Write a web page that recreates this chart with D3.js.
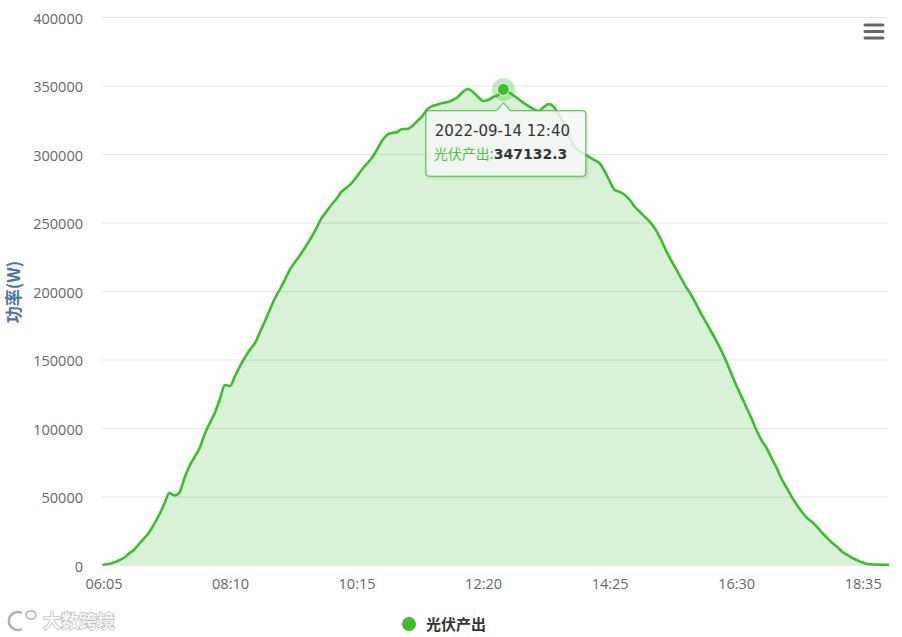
<!DOCTYPE html>
<html><head><meta charset="utf-8">
<script src="https://cdn.jsdelivr.net/npm/d3@7/dist/d3.min.js"></script>
<style>
html,body{margin:0;padding:0;background:#fff;}
svg{display:block;}
</style></head>
<body>
<svg id="chart" width="902" height="637"></svg>
<script>
// ---- data ----
const seriesName = "光伏产出";
const yTitle = "功率(W)";
const values = [
  200, 700, 1800, 3300, 5100, 8300, 10900, 15300, 19300, 23700,
  29900, 36500, 44500, 52500, 50800, 52800, 63500, 72300, 78800, 85400,
  95600, 103600, 111000, 121200, 131400, 130700, 138000, 145300, 151800, 157500,
  162500, 170800, 178800, 187600, 195600, 202200, 209500, 216800, 221900, 227000,
  232800, 238700, 245300, 252600, 257700, 262800, 267100, 272300, 275400, 278800,
  283200, 288300, 292700, 297100, 302900, 309500, 313900, 315300, 316100, 318200,
  318200, 320400, 324000, 327700, 332800, 335000, 336100, 337200, 337900, 339400,
  341600, 345300, 347400, 345300, 341600, 338700, 339400, 341600, 343000, 347132.3,
  345300, 342700, 340100, 337200, 335000, 332800, 331400, 334300, 336500, 334300,
  328500, 321200, 312400, 305800, 302200, 300000, 297800, 295600, 293400, 287600,
  280300, 273700, 272300, 270100, 266400, 261300, 257700, 254000, 250300, 245300,
  238700, 230700, 223400, 216800, 210200, 203600, 197800, 191200, 183900, 177400,
  170800, 164200, 156900, 148900, 140100, 131400, 123400, 115300, 107300, 98500,
  91200, 85400, 78100, 70800, 62800, 56200, 49600, 43800, 38700, 34300,
  31400, 27700, 23400, 19700, 16100, 13100, 9500, 7300, 5100, 3300,
  1800, 700, 400, 300, 200, 100
];
const tickLabels = ["06:05", "08:10", "10:15", "12:20", "14:25", "16:30", "18:35"];
const yTicks = [0, 50000, 100000, 150000, 200000, 250000, 300000, 350000, 400000];
const hoverDate = "2022-09-14";
const hoverTime = "12:40";

// categories: one every 5 minutes starting 06:05
const categories = values.map((v, i) => {
  const m = 6 * 60 + 5 + 5 * i;
  return String(Math.floor(m / 60)).padStart(2, "0") + ":" + String(m % 60).padStart(2, "0");
});

// ---- layout ----
const green = "#3bbd2e";
const plotL = 102, plotR = 888, plotT = 17, plotB = 565;
const svg = d3.select("#chart");

const x = d3.scaleLinear().domain([0, values.length - 1]).range([103.5, 888]);
const y = d3.scaleLinear().domain([0, 400000]).range([plotB, plotT]);

// y axis + grid
const yAxis = svg.append("g").attr("transform", `translate(${plotL},0)`)
  .call(d3.axisLeft(y).tickValues(yTicks).tickFormat(d => String(d))
    .tickSizeInner(-(plotR - plotL)).tickSizeOuter(0).tickPadding(19));
yAxis.select(".domain").remove();
yAxis.selectAll("line").attr("stroke", "#e6e6e6").attr("stroke-width", 1);
yAxis.selectAll("text").attr("fill", "#666").attr("dy", "0.42em")
  .style("font-family", "'Open Sans', sans-serif").style("font-size", "14.5px");

// x axis
const tickIdx = tickLabels.map(t => categories.indexOf(t));
const xAxis = svg.append("g").attr("transform", `translate(0,${plotB})`)
  .call(d3.axisBottom(x).tickValues(tickIdx).tickFormat(i => categories[i])
    .tickSize(0).tickPadding(13.5));
xAxis.select(".domain").remove();
xAxis.selectAll("text").attr("fill", "#666")
  .style("font-family", "'Open Sans', sans-serif").style("font-size", "14.5px");

// y title
svg.append("text")
  .attr("transform", "translate(20,292) rotate(-90)")
  .attr("text-anchor", "middle")
  .attr("fill", "#4d759e")
  .style("font-family", "'Noto Sans CJK SC', sans-serif")
  .style("font-size", "17px").style("font-weight", "bold")
  .text(yTitle);

// area + line
const area = d3.area().x((d, i) => x(i)).y0(y(0)).y1(d => y(d)).curve(d3.curveMonotoneX);
const line = d3.line().x((d, i) => x(i)).y(d => y(d)).curve(d3.curveMonotoneX);
svg.append("path").datum(values).attr("d", area).attr("fill", green).attr("fill-opacity", 0.2);
svg.append("path").datum(values).attr("d", line).attr("fill", "none")
  .attr("stroke", green).attr("stroke-width", 2.6).attr("stroke-linejoin", "round").attr("stroke-linecap", "round");

// hover marker
const hi = categories.indexOf(hoverTime);
const px = x(hi), py = y(values[hi]);
svg.append("circle").attr("cx", px).attr("cy", py).attr("r", 11.5).attr("fill", green).attr("fill-opacity", 0.3);
svg.append("circle").attr("cx", px).attr("cy", py).attr("r", 6).attr("fill", green).attr("stroke", "#fff").attr("stroke-width", 1);

// tooltip
const bx = px - 77.5, by = py + 21.3, bw = 160, bh = 65.5, r = 3;
const tip = svg.append("g");
const tipPath = `M${bx + r},${by} L${px - 7},${by} L${px},${by - 8} L${px + 7},${by} L${bx + bw - r},${by}
  Q${bx + bw},${by} ${bx + bw},${by + r} L${bx + bw},${by + bh - r} Q${bx + bw},${by + bh} ${bx + bw - r},${by + bh}
  L${bx + r},${by + bh} Q${bx},${by + bh} ${bx},${by + bh - r} L${bx},${by + r} Q${bx},${by} ${bx + r},${by} Z`;
tip.append("path").attr("d", tipPath).attr("transform", "translate(1,1)")
  .attr("fill", "none").attr("stroke", "#000").attr("stroke-opacity", 0.08).attr("stroke-width", 3);
tip.append("path").attr("d", tipPath).attr("fill", "rgba(247,247,247,0.85)")
  .attr("stroke", green).attr("stroke-width", 1);
tip.append("text").attr("x", bx + 9).attr("y", by + 25.5)
  .attr("fill", "#333").style("font-family", "'DejaVu Sans', sans-serif").style("font-size", "15px")
  .text(hoverDate + " " + hoverTime);
const t2 = tip.append("text").attr("x", bx + 8).attr("y", by + 48.5)
  .style("font-size", "14px");
t2.append("tspan").attr("fill", "#4fc043").style("font-family", "'Noto Sans CJK SC', sans-serif").text(seriesName + ":");
t2.append("tspan").attr("fill", "#333").style("font-weight", "bold").style("font-family", "'DejaVu Sans', sans-serif")
  .text(String(values[hi]));

// menu icon
[25, 31.5, 38].forEach(yy => {
  svg.append("line").attr("x1", 865).attr("x2", 883).attr("y1", yy).attr("y2", yy)
    .attr("stroke", "#666").attr("stroke-width", 3).attr("stroke-linecap", "round");
});

// legend
svg.append("circle").attr("cx", 409).attr("cy", 624).attr("r", 7).attr("fill", green);
svg.append("text").attr("x", 426).attr("y", 630).attr("fill", "#333")
  .style("font-family", "'Noto Sans CJK SC', sans-serif").style("font-size", "15px").style("font-weight", "bold")
  .text(seriesName);

// watermark
const wm = svg.append("g").attr("opacity", 0.9);
wm.append("path").attr("d", "M22,613 A9,9 0 1 0 22,629").attr("fill", "none").attr("stroke", "#aaa").attr("stroke-width", 2.5);
wm.append("ellipse").attr("cx", 31).attr("cy", 615).attr("rx", 5).attr("ry", 4).attr("fill", "none").attr("stroke", "#aaa").attr("stroke-width", 1.5);
wm.append("text").attr("x", 43).attr("y", 628).attr("fill", "#f5f5f5").attr("stroke", "#aaa").attr("stroke-width", 1.2)
  .style("paint-order", "stroke").style("font-family", "'Noto Sans CJK SC', sans-serif").style("font-size", "18px").style("font-weight", "bold")
  .text("大数跨境");
</script>
</body></html>
